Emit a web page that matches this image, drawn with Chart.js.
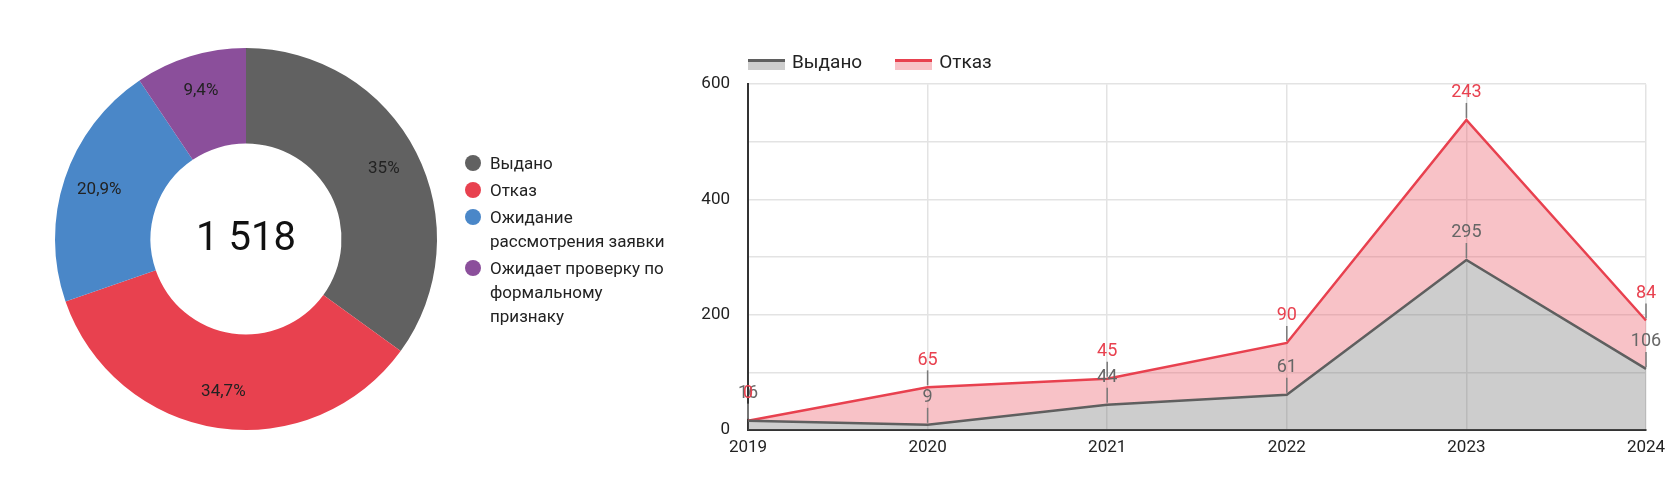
<!DOCTYPE html>
<html>
<head>
<meta charset="utf-8">
<script src="https://cdn.jsdelivr.net/npm/chart.js@4.4.1/dist/chart.umd.min.js"></script>
<style>
  body { margin: 0; width: 1680px; height: 485px; background: #fff; font-family: Roboto, sans-serif; position: relative; overflow: hidden; }
  #pieChart { position: absolute; left: 0; top: 0; }
  #areaChart { position: absolute; left: 660px; top: 56px; }
  #pieLegend { position: absolute; left: 465px; top: 151px; font-size: 17px; color: #222; }
  #pieLegend .item { display: flex; line-height: 24px; margin-bottom: 3px; }
  #pieLegend .dot { width: 16px; height: 16px; border-radius: 50%; margin: 4px 9px 0 0; flex: none; }
  #areaLegend { position: absolute; left: 748px; top: 50px; display: flex; font-size: 19px; color: #222; line-height: 24px; }
  #areaLegend .item { display: flex; align-items: flex-start; margin-right: 33px; }
  #areaLegend .box { width: 37px; height: 8px; margin: 9px 7px 0 0; }
</style>
</head>
<body>
<canvas id="pieChart" width="492" height="478"></canvas>
<div id="pieLegend"></div>
<canvas id="areaChart" width="1020" height="429"></canvas>
<div id="areaLegend"></div>

<script>
// статусы заявок
const statusLabels = ['Выдано', 'Отказ', ['Ожидание', 'рассмотрения заявки'], ['Ожидает проверку по', 'формальному', 'признаку']];
const statusCounts = [531, 527, 317, 143];
const statusColors = ['#616161', '#e8414f', '#4a87c8', '#8b4f9b'];

// по годам
const years = ['2019', '2020', '2021', '2022', '2023', '2024'];
const issued = [16, 9, 44, 61, 295, 106];
const refused = [0, 65, 45, 90, 243, 84];
const yTicks = [0, 200, 400, 600];

const total = statusCounts.reduce((a, b) => a + b, 0);

function fmtPct(v) {
    const p = Math.round(v / total * 1000) / 10;
    return String(p).replace('.', ',') + '%';
}

// legend for doughnut
const pieLegend = document.getElementById('pieLegend');
statusLabels.forEach((lbl, i) => {
    const item = document.createElement('div');
    item.className = 'item';
    const lines = Array.isArray(lbl) ? lbl : [lbl];
    item.innerHTML = '<span class="dot" style="background:' + statusColors[i] + '"></span><span>' + lines.join('<br>') + '</span>';
    pieLegend.appendChild(item);
});

const pieText = {
    id: 'pieText',
    afterDatasetsDraw(chart) {
        const ctx = chart.ctx;
        const meta = chart.getDatasetMeta(0);
        ctx.save();
        ctx.textAlign = 'center';
        ctx.textBaseline = 'middle';
        ctx.fillStyle = '#222';
        ctx.font = '17px Roboto';
        meta.data.forEach((arc, i) => {
            const mid = (arc.startAngle + arc.endAngle) / 2;
            const r = arc.innerRadius + (arc.outerRadius - arc.innerRadius) * 0.62;
            ctx.fillText(fmtPct(statusCounts[i]), arc.x + Math.cos(mid) * r, arc.y + Math.sin(mid) * r);
        });
        const c = meta.data[0];
        ctx.fillStyle = '#111';
        ctx.font = '40px Roboto';
        ctx.fillText(String(total).replace(/\B(?=(\d{3})+(?!\d))/g, ' '), c.x, c.y + 1);
        ctx.restore();
    }
};

new Chart(document.getElementById('pieChart'), {
    type: 'doughnut',
    data: {
        labels: statusLabels,
        datasets: [{
            data: statusCounts,
            backgroundColor: statusColors,
            borderWidth: 0
        }]
    },
    options: {
        responsive: false,
        animation: false,
        cutout: '50%',
        layout: { padding: 48 },
        plugins: {
            legend: { display: false },
            tooltip: { enabled: false }
        }
    },
    plugins: [pieText]
});

// legend for area chart
const areaSeries = [
    { label: 'Выдано', line: '#5f5f5f', fill: 'rgba(100,100,100,0.32)' },
    { label: 'Отказ', line: '#e8414f', fill: 'rgba(235,80,95,0.35)' }
];
const areaLegend = document.getElementById('areaLegend');
areaSeries.forEach(s => {
    const item = document.createElement('div');
    item.className = 'item';
    item.innerHTML = '<span class="box" style="border-top:3px solid ' + s.line + ';background:' + s.fill + '"></span><span>' + s.label + '</span>';
    areaLegend.appendChild(item);
});

const pointLabels = {
    id: 'pointLabels',
    afterDatasetsDraw(chart) {
        const ctx = chart.ctx;
        ctx.save();
        ctx.font = '18px Roboto';
        ctx.textAlign = 'center';
        ctx.textBaseline = 'middle';
        chart.data.datasets.forEach((ds, i) => {
            chart.getDatasetMeta(i).data.forEach((pt, j) => {
                ctx.strokeStyle = '#7a7a7a';
                ctx.lineWidth = 1.5;
                ctx.beginPath();
                ctx.moveTo(pt.x, pt.y - 2);
                ctx.lineTo(pt.x, pt.y - 17);
                ctx.stroke();
                ctx.fillStyle = ds.labelColor;
                ctx.fillText(ds.data[j], pt.x, pt.y - 27);
            });
        });
        ctx.restore();
    }
};

new Chart(document.getElementById('areaChart'), {
    type: 'line',
    data: {
        labels: years,
        datasets: [{
            label: 'Выдано',
            data: issued,
            borderColor: areaSeries[0].line,
            backgroundColor: areaSeries[0].fill,
            labelColor: '#666',
            borderWidth: 2.5,
            pointRadius: 0,
            fill: 'origin'
        }, {
            label: 'Отказ',
            data: refused,
            borderColor: areaSeries[1].line,
            backgroundColor: areaSeries[1].fill,
            labelColor: '#e8414f',
            borderWidth: 2.5,
            pointRadius: 0,
            fill: '-1'
        }]
    },
    options: {
        responsive: false,
        animation: false,
        layout: { padding: { left: 0, right: 34, top: 0, bottom: 15 } },
        plugins: {
            legend: { display: false },
            tooltip: { enabled: false }
        },
        scales: {
            x: {
                grid: { color: '#e3e3e3', lineWidth: 1.5, drawTicks: false },
                border: { color: '#333', width: 2 },
                ticks: { color: '#222', font: { family: 'Roboto', size: 17 }, padding: 8, maxRotation: 0 },
                afterFit(s) { s.height = 40; }
            },
            y: {
                stacked: true,
                min: 0,
                max: 600,
                grid: { color: '#e3e3e3', lineWidth: 1.5, drawTicks: false },
                border: { color: '#333', width: 2 },
                ticks: {
                    stepSize: 100,
                    color: '#222',
                    font: { family: 'Roboto', size: 17 },
                    padding: 18,
                    callback: v => yTicks.includes(v) ? v : ''
                },
                afterFit(s) { s.width = 88; }
            }
        }
    },
    plugins: [pointLabels]
});
</script>
</body>
</html>
